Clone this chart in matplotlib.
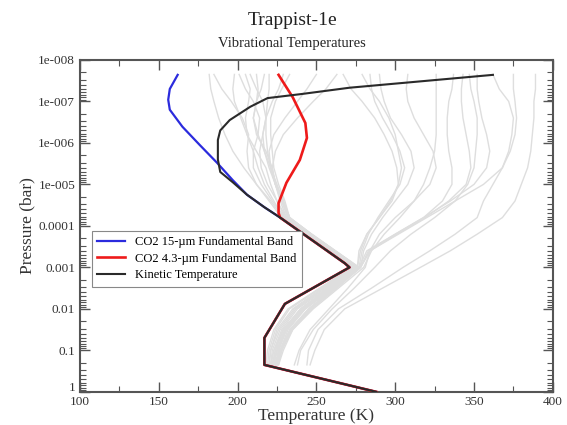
import numpy as np
import matplotlib
matplotlib.use("Agg")
import matplotlib.pyplot as plt
import matplotlib.transforms as mtransforms
from matplotlib.ticker import FixedLocator, LogLocator, MultipleLocator, NullFormatter

plt.rcParams['font.family'] = ['Liberation Serif', 'DejaVu Serif']

# kinetic temperature profile (log10 pressure in bar, temperature in K)
kin_logp = [-7.64, -7.33, -7.18, -7.08, -6.87, -6.55, -6.3, -6.07, -5.6, -5.3, -5.05,
            -4.75, -4.45, -4.2, -3.1, -3.0, -2.12, -1.3, -0.65, 0.0]
kin_T = [362, 271, 241, 219, 208, 195, 189, 187.5, 187.5, 189, 197,
         206, 217, 227, 268, 271, 230, 217, 217, 288]

# CO2 15 um band (upper part, joins kinetic below)
blue_logp = [-7.64, -7.3, -7.04, -6.8, -6.39, -5.95, -5.52, -5.1, -4.75]
blue_T = [162, 157, 156, 157, 165, 176, 187, 197, 206]

# CO2 4.3 um band (upper part, joins kinetic below)
red_logp = [-7.64, -7.1, -6.48, -6.12, -5.59, -5.04, -4.55, -4.31, -4.2]
red_T = [226, 235, 243, 244, 239.5, 231, 226, 226, 227]

# background profiles (grey), all on the same pressure levels
gray_logp = [-7.65, -7.3, -7.0, -6.6, -6.2, -5.8, -5.4, -5.0, -4.6,
             -4.2, -3.8, -3.4, -3.0, -2.5, -2.0, -1.5, -1.0, -0.65]
gray_T = [
    [182, 183, 185, 188, 192, 197, 204, 212, 220, 228, 242, 257, 272, 252, 232, 223, 219, 218],
    [185, 190, 196, 203, 207, 206, 207, 212, 221, 229, 243, 258, 273, 253, 233, 224, 220, 219],
    [198, 197, 198, 202, 206, 210, 213, 217, 223, 229, 243, 258, 273, 254, 235, 225, 221, 220],
    [201, 205, 210, 214, 213, 210, 210, 215, 222, 230, 244, 259, 274, 255, 236, 226, 221, 220],
    [205, 208, 207, 205, 206, 212, 218, 221, 225, 230, 244, 259, 274, 256, 237, 227, 222, 221],
    [208, 212, 216, 218, 216, 214, 215, 219, 225, 231, 245, 260, 275, 257, 238, 228, 223, 221],
    [212, 213, 212, 210, 212, 218, 222, 224, 227, 231, 245, 260, 275, 258, 240, 229, 224, 222],
    [217, 215, 212, 210, 213, 217, 221, 224, 228, 232, 246, 261, 276, 259, 241, 230, 225, 223],
    [220, 220, 219, 218, 218, 219, 221, 225, 229, 232, 246, 261, 276, 260, 242, 231, 226, 224],
    [229, 226, 222, 218, 216, 217, 220, 224, 229, 233, 247, 262, 277, 261, 243, 232, 227, 225],
    [233, 228, 224, 221, 221, 222, 223, 226, 230, 233, 247, 262, 277, 262, 245, 234, 228, 226],
    [250, 244, 238, 230, 223, 220, 221, 224, 228, 232, 246, 261, 276, 259, 241, 230, 225, 223],
    [263, 256, 248, 238, 229, 224, 222, 224, 229, 233, 247, 262, 277, 260, 242, 231, 226, 224],
    [267, 272, 279, 287, 293, 298, 301, 302, 298, 290, 282, 277, 276, 258, 240, 229, 224, 222],
    [279, 284, 290, 296, 300, 302, 304, 302, 297, 290, 282, 278, 276, 258, 240, 229, 223, 221],
    [284, 285, 287, 292, 298, 303, 306, 303, 296, 289, 283, 279, 277, 260, 243, 231, 225, 222],
    [290, 291, 293, 297, 304, 310, 312, 308, 300, 292, 285, 280, 278, 262, 246, 234, 227, 224],
    [308, 307, 308, 312, 318, 324, 326, 322, 312, 300, 290, 284, 281, 270, 258, 246, 239, 236],
    [326, 326, 326, 326, 326, 325, 322, 318, 312, 303, 293, 285, 280, 264, 248, 235, 227, 224],
    [337, 336, 334, 333, 333, 334, 336, 336, 330, 318, 300, 283, 278, 262, 246, 234, 228, 225],
    [343, 342, 342, 343, 345, 347, 348, 345, 334, 319, 301, 284, 278, 263, 247, 235, 229, 226],
    [347, 348, 350, 352, 352, 351, 350, 346, 338, 325, 310, 297, 287, 274, 260, 248, 240, 238],
    [352, 352, 353, 355, 358, 360, 358, 350, 335, 318, 300, 282, 277, 261, 245, 233, 227, 224],
    [362, 366, 372, 375, 374, 372, 368, 356, 338, 320, 302, 284, 278, 262, 246, 234, 228, 225],
    [375, 375, 376, 377, 376, 373, 368, 362, 356, 352, 338, 322, 305, 285, 264, 251, 245, 244],
    [389, 389, 388, 388, 387, 386, 384, 380, 376, 368, 352, 335, 316, 292, 268, 255, 249, 246],
]

y_ticks = [1e-8, 1e-7, 1e-6, 1e-5, 1e-4, 1e-3, 1e-2, 1e-1, 1]
y_labels = ["1e-008", "1e-007", "1e-006", "1e-005", "0.0001", "0.001", "0.01", "0.1", "1"]

fig = plt.figure(figsize=(5.67, 4.25), dpi=100)
ax = fig.add_axes([0.141, 0.078, 0.834, 0.781])

for row in gray_T:
    ax.plot(row, 10 ** np.array(gray_logp), color='#dedede', lw=1.0, zorder=1)

# lower part of the band profiles is the same as the kinetic one
below = [i for i, lp in enumerate(kin_logp) if lp > blue_logp[-1]]
bT = blue_T + [kin_T[i] for i in below]
bp = blue_logp + [kin_logp[i] for i in below]
below = [i for i, lp in enumerate(kin_logp) if lp > red_logp[-1]]
rT = red_T + [kin_T[i] for i in below]
rp = red_logp + [kin_logp[i] for i in below]

ax.plot(bT, 10 ** np.array(bp), color='#2b2bdd', lw=1.6, zorder=2,
        label='CO2 15-\u00b5m Fundamental Band')
ax.plot(rT, 10 ** np.array(rp), color='#ee1a1a', lw=1.9, zorder=3,
        label='CO2 4.3-\u00b5m Fundamental Band')
ax.plot(kin_T, 10 ** np.array(kin_logp), color='#2a2a2a', lw=1.5, zorder=4,
        label='Kinetic Temperature')

ax.set_yscale('log')
ax.set_ylim(1, 1e-8)
ax.set_xlim(100, 400)
ax.yaxis.set_major_locator(FixedLocator(y_ticks))
ax.set_yticklabels(y_labels)
ax.yaxis.set_minor_locator(LogLocator(base=10, subs=np.arange(2, 10), numticks=20))
ax.yaxis.set_minor_formatter(NullFormatter())
ax.xaxis.set_major_locator(MultipleLocator(50))
ax.xaxis.set_minor_locator(MultipleLocator(25))

ax.tick_params(which='both', direction='in', top=True, right=True, colors='#555555',
               labelcolor='#333333', labelsize=9.5)
ax.tick_params(which='major', length=7, width=1)
ax.tick_params(which='minor', length=4, width=0.8)
ax.tick_params(axis='x', pad=3)
for s in ax.spines.values():
    s.set_color('#555555')
    s.set_linewidth(1.5)

# the "1" label sits a little above the corner so it clears "100"
lab1 = ax.get_yticklabels()[-1]
lab1.set_transform(lab1.get_transform() + mtransforms.ScaledTranslation(0, 4 / 72, fig.dpi_scale_trans))

ax.set_xlabel('Temperature (K)', fontsize=12.5, color='#333333', labelpad=0)
ax.set_ylabel('Pressure (bar)', fontsize=12.5, color='#333333', labelpad=2)

fig.text(0.515, 0.952, 'Trappist-1e', ha='center', va='center', fontsize=14, color='#222222')
fig.text(0.515, 0.898, 'Vibrational Temperatures', ha='center', va='center', fontsize=10.5,
         color='#222222')

leg = ax.legend(loc='upper left', bbox_to_anchor=(0.025, 0.485), fontsize=9,
                fancybox=False, framealpha=1, edgecolor='#888888', handlelength=2.2,
                borderpad=0.45, labelspacing=0.35, borderaxespad=0)
leg.get_frame().set_linewidth(0.8)

fig.savefig('out.png', dpi=100)
